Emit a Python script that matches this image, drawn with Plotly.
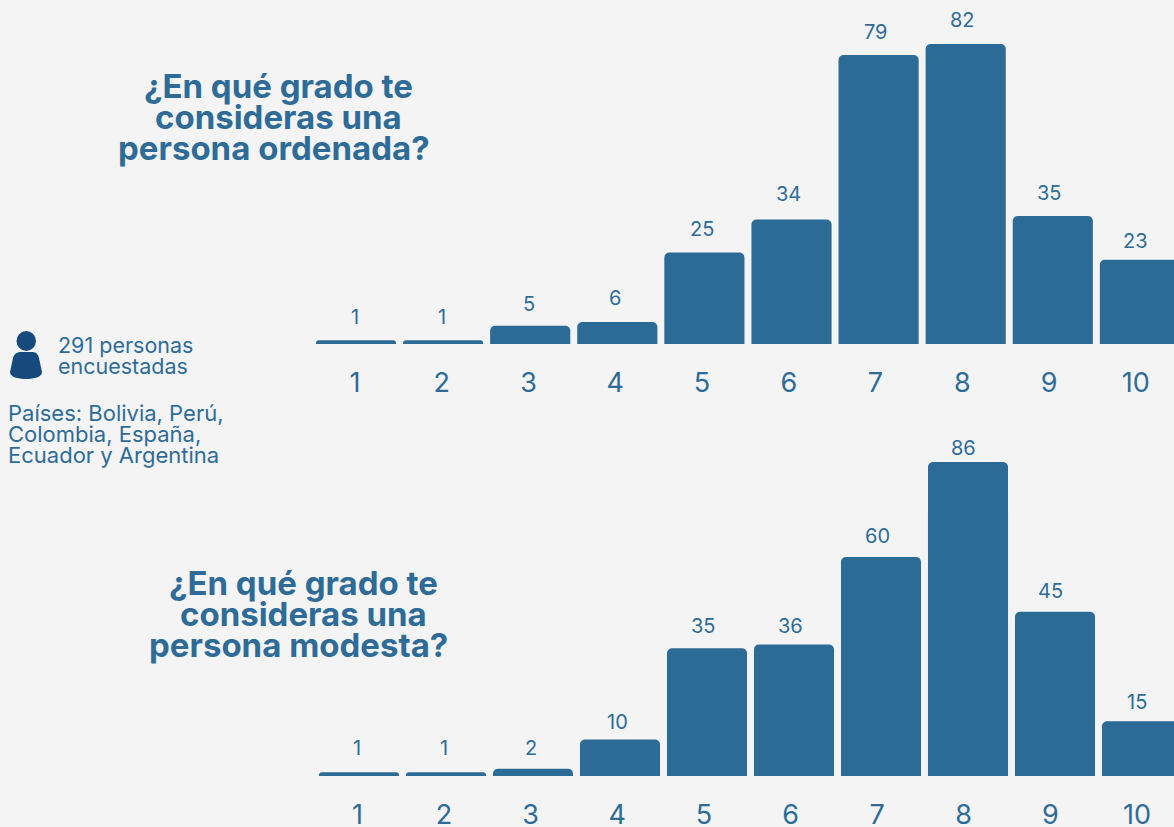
import plotly.graph_objects as go

cats = ["1","2","3","4","5","6","7","8","9","10"]
top_values = [1,1,5,6,25,34,79,82,35,23]
bottom_values = [1,1,2,10,35,36,60,86,45,15]
title_top = ["¿En qué grado te","consideras una","persona ordenada?"]
title_bottom = ["¿En qué grado te","consideras una","persona modesta?"]
note_lines = ["291 personas","encuestadas"]
country_lines = ["Países: Bolivia, Perú,","Colombia, España,","Ecuador y Argentina"]

# pixel gap between each bar top and its value label
top_gaps = [23,23,22,24,24,26,23,24,23,19]
bottom_gaps = [24,24,21,17,22,19,21,14,21,19]

BLUE = "#2c6b96"
TXT = "#2e6c97"
ICON = "#164a7c"
BG = "#f4f4f4"
FONT = "Inter"
W, H = 1174, 827

fig = go.Figure()

def rng(c0, step):
    left = c0 - step/2
    return [left/W, 1], [-0.5, -0.5 + (W-left)/step]

def yd(top, bottom):
    return [1-bottom/H, 1-top/H]

def add_chart(values, gaps, bar_x, bar_y, lab_x):
    fig.add_trace(go.Bar(x=cats, y=values, marker=dict(color=BLUE, line_width=0, cornerradius=5),
        width=0.92, xaxis=bar_x, yaxis=bar_y, showlegend=False, hoverinfo="skip"))
    fig.add_trace(go.Scatter(x=cats, y=values, mode="markers", marker=dict(opacity=0, size=1),
        xaxis=lab_x, yaxis=bar_y, showlegend=False, hoverinfo="skip"))
    for i, (v, g) in enumerate(zip(values, gaps)):
        fig.add_annotation(text=str(v), x=i, y=v, xref=lab_x, yref=bar_y, showarrow=False,
            xanchor="center", yanchor="middle", yshift=g,
            font=dict(size=20, color=TXT, family=FONT))

add_chart(top_values, top_gaps, "x", "y", "x3")
add_chart(bottom_values, bottom_gaps, "x2", "y2", "x4")

hidden = dict(showgrid=False, zeroline=False, showline=False, type="category", automargin=False,
              showticklabels=False, ticks="", categoryorder="array", categoryarray=cats)
shown = dict(showgrid=False, zeroline=False, showline=False, type="category", ticks="", automargin=False,
             ticklabelstandoff=20, tickfont=dict(size=27, color=TXT, family=FONT),
             categoryorder="array", categoryarray=cats, tickmode="array", tickvals=cats, ticktext=cats)

d1, r1 = rng(356, 87.1)
d2, r2 = rng(359, 87.0)
d3, r3 = rng(355, 86.75)
d4, r4 = rng(357.5, 86.6)

fig.update_layout(
    width=W, height=H, autosize=False, margin=dict(l=0,r=0,t=0,b=0,autoexpand=False),
    paper_bgcolor=BG, plot_bgcolor="rgba(0,0,0,0)", font=dict(family=FONT, color=TXT),
    xaxis=dict(domain=d1, range=r1, anchor="y", **hidden),
    xaxis2=dict(domain=d2, range=r2, anchor="y2", **hidden),
    xaxis3=dict(domain=d3, range=r3, anchor="y", **shown),
    xaxis4=dict(domain=d4, range=r4, anchor="y2", **shown),
    yaxis=dict(domain=yd(44, 344), range=[0,82], visible=False, anchor="x", automargin=False),
    yaxis2=dict(domain=yd(462, 776), range=[0,86], visible=False, anchor="x2", automargin=False),
)

def title(lines, xs, ys):
    for l, xc, y in zip(lines, xs, ys):
        fig.add_annotation(text=f"<b>{l}</b>", xref="paper", yref="paper", x=xc/W, y=1-y/H,
            showarrow=False, xanchor="center", yanchor="middle",
            font=dict(size=33, color=TXT, family=FONT))

title(title_top, [278,278,273.5], [86,117,148])
title(title_bottom, [303,303,298.5], [583,614,645])

def left(lines, x, ys, size=22):
    for text, y in zip(lines, ys):
        fig.add_annotation(text=text, xref="paper", yref="paper", x=x/W, y=1-y/H, showarrow=False,
            xanchor="left", xshift=-1, yanchor="middle", font=dict(size=size, color=TXT, family=FONT))

left(note_lines, 57, [345,366], 21.5)
left(country_lines, 7, [413,434,455], 22)

fig.add_shape(type="circle", xref="paper", yref="paper", x0=16.5/W, x1=36/W, y0=1-351/H, y1=1-331/H, fillcolor=ICON, line_width=0)
px = lambda x: x/W
py = lambda y: 1-y/H
path = (f"M {px(10)} {py(372)} L {px(13)} {py(358)} C {px(14)} {py(354)}, {px(17)} {py(352)}, {px(21)} {py(352)} "
        f"L {px(32)} {py(352)} C {px(36)} {py(352)}, {px(38)} {py(354)}, {px(39)} {py(358)} "
        f"L {px(42)} {py(372)} C {px(42)} {py(377)}, {px(34)} {py(379)}, {px(26)} {py(379)} "
        f"C {px(18)} {py(379)}, {px(10)} {py(377)}, {px(10)} {py(372)} Z")
fig.add_shape(type="path", xref="paper", yref="paper", path=path, fillcolor=ICON, line_width=0)

fig.write_html("out.html", config=dict(displayModeBar=False),
    post_script="document.body.style.margin='0';document.body.style.background='#f4f4f4';")
